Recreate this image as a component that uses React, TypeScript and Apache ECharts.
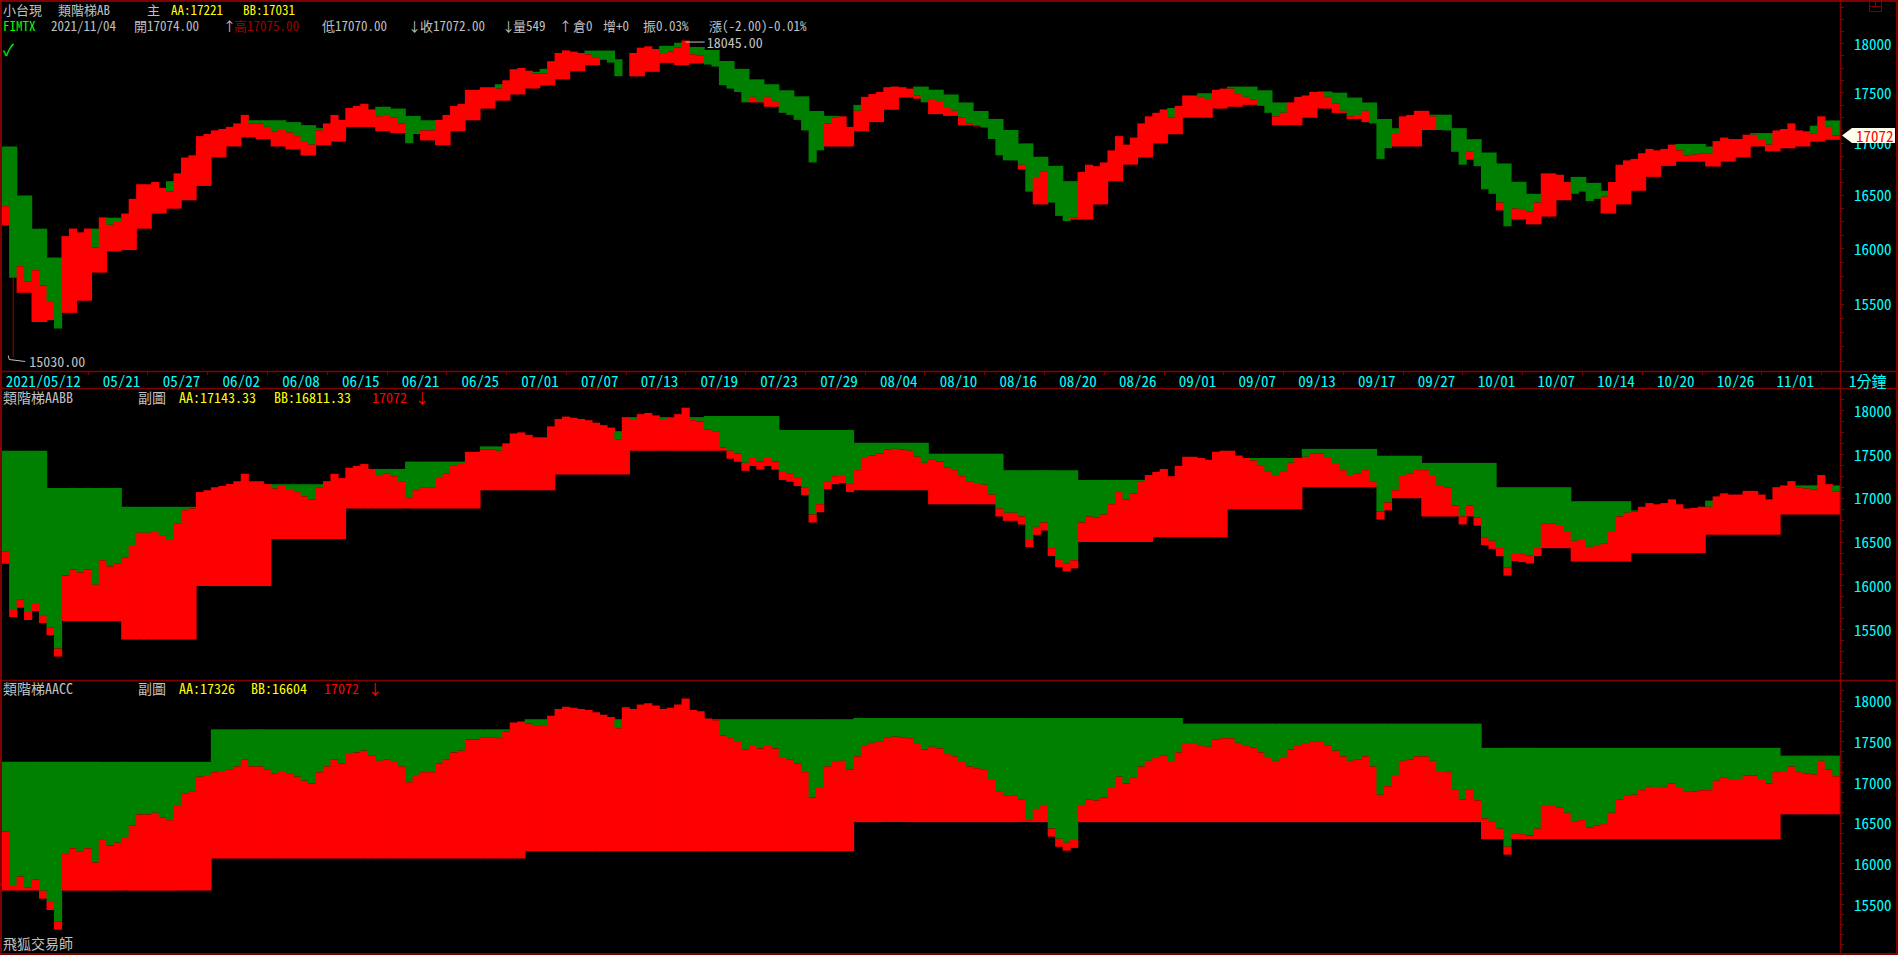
import React, { useEffect, useRef } from 'react';
import * as echarts from 'echarts';

const N = 246;

// close price, one value per pixel-band (≈ half a trading day)
const PRICE = [
  16393, 15734, 15838, 15699, 15803, 15664, 15525, 15282, 16115, 16185,
  16150, 16185, 16011, 16289, 16220, 16255, 16324, 16463, 16602, 16602,
  16623, 16567, 16532, 16706, 16859, 16880, 17067, 17088, 17123, 17137,
  17158, 17192, 17276, 17192, 17192, 17158, 17109, 17137, 17102, 17067,
  17018, 16984, 17123, 17192, 17276, 17227, 17345, 17366, 17387, 17331,
  17262, 17276, 17248, 17192, 16998, 17088, 17123, 17123, 17227, 17276,
  17366, 17387, 17526, 17526, 17553, 17553, 17539, 17623, 17734, 17748,
  17720, 17692, 17692, 17817, 17901, 17928, 17915, 17901, 17887, 17859,
  17831, 17803, 17664, 17922, 17901, 17956, 17970, 17942, 17901, 17915,
  17956, 18030, 17887, 17873, 17783, 17762, 17574, 17539, 17505, 17401,
  17456, 17415, 17456, 17415, 17297, 17276, 17227, 17123, 16811, 16928,
  17192, 17248, 17262, 17158, 17317, 17456, 17484, 17505, 17553, 17560,
  17553, 17539, 17470, 17401, 17435, 17415, 17345, 17317, 17248, 17192,
  17171, 17151, 17039, 16880, 16831, 16831, 16789, 16532, 16671, 16720,
  16428, 16303, 16255, 16289, 16720, 16789, 16775, 16811, 16928, 17067,
  16984, 17053, 17192, 17262, 17297, 17331, 17248, 17366, 17470, 17470,
  17456, 17435, 17526, 17539, 17539, 17484, 17456, 17428, 17366, 17297,
  17262, 17297, 17401, 17456, 17470, 17505, 17505, 17456, 17387, 17317,
  17262, 17276, 17317, 17192, 16845, 16949, 17088, 17262, 17276, 17317,
  17317, 17262, 17137, 17123, 16914, 16789, 16914, 16775, 16553, 16511,
  16428, 16206, 16372, 16359, 16345, 16428, 16706, 16706, 16692, 16623,
  16511, 16532, 16442, 16463, 16484, 16623, 16789, 16831, 16845, 16900,
  16942, 16928, 16942, 16984, 16928, 16880, 16887, 16900, 16900, 17018,
  17053, 17039, 17039, 17081, 17081, 17039, 16984, 17123, 17137, 17192,
  17123, 17109, 17095, 17262, 17158, 17072,
];

// main panel (類階梯AB): one AA / BB level per trading day (two bands each); null = hidden
const TOP_AA = [
  16966, 16496, 16184, 15918, 15986, null, 16184, 16286, 16325, null,
  null, 16631, null, null, null, null, 17223, 17223, 17223, 17205,
  17175, 17145, null, null, null, 17357, 17339, 17266, 17223, 17223,
  null, null, 17498, 17583, null, 17709, 17739, null, null, 17926,
  17926, 17837, null, null, 17975, 18007, 17963, 17932, 17819, 17739,
  17632, 17583, 17522, 17461, 17315, 17266, null, 17376, null, null,
  null, 17559, 17528, 17480, 17400, 17315, 17236, 17127, 16996, 16866,
  16778, 16631, null, null, null, 16984, null, null, 17345, null,
  17492, 17528, 17559, 17559, 17522, 17400, null, null, 17510, 17498,
  17449, 17400, 17236, 17145, null, 17278, 17278, 17145, 17037, 16907,
  16801, 16625, 16511, null, null, 16672, 16615, 16540, null, null,
  16878, null, 16990, 16990, 16966, null, 17025, 17097, 17097, 17115,
  17115, 17169, 17221,
];
const TOP_BB = [
  16213, 15599, 15340, 15356, 15420, 15528, 15781, 15974, 15986, 16184,
  16325, 16371, 16450, 16586, 16860, 16966, 17055, 17037, 16966, 16937,
  16878, 16978, 17013, 17157, 17157, 17115, 17097, null, 17025, 16978,
  17115, 17223, 17339, 17418, 17480, 17540, 17571, 17632, 17715, 17776,
  null, null, 17663, 17709, 17800, 17776, 17794, null, 17632, 17510,
  17400, 17357, 17296, null, null, 16966, 16966, 17115, 17205, 17327,
  17449, 17437, 17284, 17266, 17175, 17163, null, null, 16742, 16411,
  null, 16269, 16269, 16411, 16631, 16790, 16860, 16996, 17085, 17248,
  17248, 17339, 17357, 17376, null, 17175, 17175, 17248, 17339, 17296,
  17236, 17205, null, 16966, 16966, 17127, 17127, null, 16837, 16615,
  16354, 16269, 16224, 16297, 16450, null, null, 16325, 16411, 16540,
  16672, 16778, 16819, 16819, 16772, 16819, 16860, 16966, 16919, 16948,
  16966, 17013, 17031,
];

// sub chart 類階梯AABB: weekly levels, starting band of each week
const MID_START = [0, 6, 16, 26, 36, 46, 54, 64, 74, 84, 94, 104, 114, 124, 134, 144, 154, 164, 174, 184, 190, 200, 210, 218, 228, 238];
const MID_AA = [17539, 17115, 16899, null, 17157, 17331, 17415, 17588, 17762, 17922, 17935, 17776, 17630, 17505, 17317, 17206, null, 17456, 17560, 17482, 17400, 17123, 16963, 16859, 16970, 17143.33];
const MID_BB = [16250, 15595, 15386, 15997, 16532, 16880, 16880, 17088, 17268, 17539, 17539, null, 17088, 16928, null, 16498, 16553, 16872, 17123, 16997, 16789, 16428, 16275, 16372, 16581, 16811.33];

// sub chart 類階梯AACC: monthly levels
const BOT_START = [0, 28, 70, 114, 158, 198, 238];
const BOT_AA = [17250, 17650, 17775, 17790, 17720, 17422, 17326];
const BOT_BB = [15665, 16060, 16150, 16508, 16508, 16298, 16604];

const LABEL_IDX = [0, 13, 21, 29, 37, 45, 53, 61, 69, 77, 85, 93, 101, 109, 117, 125, 133, 141, 149, 157, 165, 173, 181, 189, 197, 205, 213, 221, 229, 237];
const DATE_LABELS = ['2021/05/12', '05/21', '05/27', '06/02', '06/08', '06/15', '06/21', '06/25', '07/01', '07/07', '07/13', '07/19', '07/23', '07/29', '08/04', '08/10', '08/16', '08/20', '08/26', '09/01', '09/07', '09/13', '09/17', '09/27', '10/01', '10/07', '10/14', '10/20', '10/26', '11/01'];
const TICK_IDX = Array.from({ length: 30 }, (_, j) => 11 + 8 * j);

const Y_LABELS = [15500, 16000, 16500, 17000, 17500, 18000];
const Y_MINOR = Array.from({ length: 28 }, (_, j) => 15000 + 125 * j);

const MAX_IDX = 91, MAX_VAL = 18045;
const MIN_IDX = 1, MIN_VAL = 15030;

const RED = '#ff0000';
const GREEN = '#008000';
const DARK_RED = '#800000';
const CYAN = '#00ffff';
const GRAY = '#c0c0c0';
const YELLOW = '#ffff00';
const FONT = '"Noto Sans Mono CJK TC", "Noto Sans CJK TC", "DejaVu Sans Mono", monospace';

function expand(starts: number[], vals: (number | null)[]) {
  const out: (number | null)[] = [];
  let s = 0;
  for (let i = 0; i < N; i++) {
    while (s + 1 < starts.length && i >= starts[s + 1]) s++;
    out.push(vals[s]);
  }
  return out;
}

function makeRender(p: number[], aa: (number | null)[], bb: (number | null)[], strip: number) {
  return (params: any, api: any) => {
    const i = params.dataIndex;
    const P = p[i];
    const c = api.coord([i, P]);
    const w = api.size([1, 0])[0];
    const x = c[0] - w / 2 - 0.35;
    const width = w + 0.7;
    const children: any[] = [];
    const A = aa[i];
    const B = bb[i];
    if (A != null && A > P) {
      const ya = api.coord([i, A])[1];
      children.push({ type: 'rect', shape: { x, y: ya, width, height: c[1] - ya }, style: { fill: GREEN } });
    }
    if (B != null && P > B) {
      const yb = api.coord([i, B])[1];
      children.push({ type: 'rect', shape: { x, y: c[1], width, height: yb - c[1] }, style: { fill: RED } });
    } else if (strip > 0) {
      children.push({ type: 'rect', shape: { x, y: c[1], width, height: strip }, style: { fill: RED } });
    }
    return { type: 'group', children };
  };
}

function txt(text: string, x: number, y: number, fill: string, size = 14) {
  return {
    type: 'text', x, y, z: 100,
    style: {
      text, fill, font: `${size}px ${FONT}`, lineHeight: size,
      textVerticalAlign: 'middle', verticalAlign: 'middle', textAlign: 'left', align: 'left',
    },
  };
}

function yAxisCfg(gridIndex: number, min: number, max: number, log: boolean) {
  const t = (v: number) => (log ? Math.log(v) : v);
  return {
    type: 'value', gridIndex, position: 'right', min: t(min), max: t(max),
    splitLine: { show: false },
    axisLine: { show: true, lineStyle: { color: DARK_RED, width: 1 } },
    axisTick: {
      show: true, inside: false, length: 4, lineStyle: { color: DARK_RED },
      customValues: Y_MINOR.filter((v) => v > min && v < max).map(t),
    },
    axisLabel: {
      show: true, color: CYAN, fontSize: 15, lineHeight: 15, fontFamily: FONT, margin: 14,
      customValues: Y_LABELS.map(t),
      formatter: (v: number) => String(Math.round(log ? Math.exp(v) : v)),
    },
  };
}

export default function App() {
  const ref = useRef<HTMLDivElement>(null);
  useEffect(() => {
    document.body.style.margin = '0';
    document.body.style.background = '#000';
    const chart = echarts.init(ref.current!, null, { renderer: 'svg' });
    const cats = Array.from({ length: N }, (_, i) => String(i));

    const topAA = Array.from({ length: N }, (_, i) => TOP_AA[Math.floor(i / 2)]);
    const topBB = Array.from({ length: N }, (_, i) => TOP_BB[Math.floor(i / 2)]);
    const ln = (v: number | null) => (v == null ? null : Math.log(v));
    const pLn = PRICE.map((v) => Math.log(v));
    const midAA = expand(MID_START, MID_AA);
    const midBB = expand(MID_START, MID_BB);
    const botAA = expand(BOT_START, BOT_AA);
    const botBB = expand(BOT_START, BOT_BB);

    const grids = [
      { left: 2, width: 1838, top: 2, height: 369, outerBoundsMode: 'none' },
      { left: 2, width: 1838, top: 389, height: 290, outerBoundsMode: 'none' },
      { left: 2, width: 1838, top: 681, height: 272, outerBoundsMode: 'none' },
    ];
    const hiddenX = (gridIndex: number) => ({
      type: 'category', gridIndex, data: cats, boundaryGap: true, show: false,
    });

    const option: any = {
      animation: false,
      backgroundColor: '#000',
      grid: grids,
      xAxis: [
        {
          type: 'category', gridIndex: 0, data: cats, boundaryGap: true, position: 'bottom',
          axisLine: { show: false },
          axisTick: {
            show: true, alignWithLabel: true, length: 4,
            interval: (i: number) => TICK_IDX.includes(i),
            lineStyle: { color: DARK_RED, width: 1 },
          },
          axisLabel: {
            show: true, color: CYAN, fontSize: 15, lineHeight: 14, fontFamily: FONT, align: 'left', margin: 2,
            interval: (i: number) => LABEL_IDX.includes(i),
            formatter: (_v: string, i: number) => {
              const k = LABEL_IDX.indexOf(i);
              return k >= 0 ? DATE_LABELS[k] : '';
            },
          },
          splitLine: { show: false },
        },
        hiddenX(1),
        hiddenX(2),
      ],
      yAxis: [
        yAxisCfg(0, 14914, 18433, true),
        yAxisCfg(1, 14935, 18243, false),
        yAxisCfg(2, 14897, 18245, false),
      ],
      series: [
        {
          type: 'custom', xAxisIndex: 0, yAxisIndex: 0, clip: true,
          data: pLn.map((v, i) => [i, v]), encode: { x: 0, y: 1 },
          renderItem: makeRender(pLn, topAA.map(ln), topBB.map(ln), 0),
        },
        {
          type: 'custom', xAxisIndex: 1, yAxisIndex: 1, clip: true,
          data: PRICE.map((v, i) => [i, v]), encode: { x: 0, y: 1 },
          renderItem: makeRender(PRICE, midAA, midBB, 8),
        },
        {
          type: 'custom', xAxisIndex: 2, yAxisIndex: 2, clip: true,
          data: PRICE.map((v, i) => [i, v]), encode: { x: 0, y: 1 },
          renderItem: makeRender(PRICE, botAA, botBB, 8),
        },
      ],
    };
    chart.setOption(option);

    const last = PRICE[N - 1];
    const [, ty] = chart.convertToPixel({ gridIndex: 0 } as any, [N - 1, Math.log(last)]) as number[];
    const [mx, my] = chart.convertToPixel({ gridIndex: 0 } as any, [MAX_IDX, Math.log(MAX_VAL)]) as number[];
    const [nx, ny] = chart.convertToPixel({ gridIndex: 0 } as any, [MIN_IDX, Math.log(MIN_VAL)]) as number[];
    const [, npy] = chart.convertToPixel({ gridIndex: 0 } as any, [MIN_IDX, Math.log(PRICE[MIN_IDX])]) as number[];

    const ln1 = (x1: number, y1: number, x2: number, y2: number, stroke = DARK_RED, w = 1) => ({
      type: 'line', z: 100, shape: { x1, y1, x2, y2 }, style: { stroke, lineWidth: w },
    });

    const H = 13; // header font size
    const Y1 = 9;
    const Y2 = 25.5;
    const graphic: any[] = [
      { type: 'rect', z: 100, shape: { x: 1, y: 1, width: 1896, height: 953 }, style: { fill: 'none', stroke: DARK_RED, lineWidth: 2 } },
      ln1(0, 371.5, 1898, 371.5, DARK_RED, 1.5),
      ln1(0, 388.5, 1898, 388.5, DARK_RED, 1.5),
      ln1(0, 680.5, 1898, 680.5, DARK_RED, 1.5),
      ln1(1840.5, 0, 1840.5, 955, DARK_RED, 1.5),
      // top-right small icon
      { type: 'rect', z: 100, shape: { x: 1869.5, y: 1.5, width: 12, height: 10 }, style: { fill: 'none', stroke: DARK_RED, lineWidth: 1 } },
      ln1(1869.5, 6.5, 1881.5, 6.5),
      ln1(1875.5, 1.5, 1875.5, 6.5),
      // header line 1
      txt('小台現', 3, Y1, GRAY, H),
      txt('類階梯AB', 58, Y1, GRAY, H),
      txt('主', 147, Y1, GRAY, H),
      txt('AA:17221', 171, Y1, YELLOW, H),
      txt('BB:17031', 243, Y1, YELLOW, H),
      // header line 2
      txt('FIMTX', 3, Y2, '#00ff00', H),
      txt('2021/11/04', 51, Y2, GRAY, H),
      txt('開17074.00', 134, Y2, GRAY, H),
      txt('↑', 223, Y2, GRAY, H),
      txt('高17075.00', 234, Y2, '#a00000', H),
      txt('低17070.00', 322, Y2, GRAY, H),
      txt('↓', 408, Y2, GRAY, H),
      txt('收17072.00', 420, Y2, GRAY, H),
      txt('↓', 502, Y2, GRAY, H),
      txt('量549', 513, Y2, GRAY, H),
      txt('↑', 559, Y2, GRAY, H),
      txt('倉0', 573, Y2, GRAY, H),
      txt('增+0', 603, Y2, GRAY, H),
      txt('振0.03%', 643, Y2, GRAY, H),
      txt('漲(-2.00)-0.01%', 709, Y2, GRAY, H),
      txt('✓', 3, 49, '#00ff00', 16),
      // extremes
      ln1(mx, my + 3, mx + 19, my + 3, GRAY, 1),
      txt(MAX_VAL.toFixed(2), mx + 21, my + 3, GRAY),
      ln1(nx, npy, nx, ny, '#a00000', 1),
      { type: 'polyline', z: 100, shape: { points: [[nx - 5, ny - 2], [nx - 4, ny + 2], [nx + 12, ny + 4]] }, style: { stroke: GRAY, lineWidth: 1, fill: 'none' } },
      txt(MIN_VAL.toFixed(2), nx + 16, ny + 3, GRAY),
      // right column
      txt('1分鐘', 1849, 380, CYAN, 15),
      { type: 'polygon', z: 100, shape: { points: [[1842, ty], [1852, ty - 7.5], [1895, ty - 7.5], [1895, ty + 7.5], [1852, ty + 7.5]] }, style: { fill: '#fffff0' } },
      txt(String(last), 1856, ty, RED, 15),
      // sub chart titles
      txt('類階梯AABB', 3, 397, GRAY),
      txt('副圖', 138, 397, GRAY),
      txt('AA:' + MID_AA[MID_AA.length - 1]!.toFixed(2), 179, 397, YELLOW),
      txt('BB:' + MID_BB[MID_BB.length - 1]!.toFixed(2), 274, 397, YELLOW),
      txt(String(last), 372, 397, RED),
      txt('↓', 415, 397, RED),
      txt('類階梯AACC', 3, 688, GRAY),
      txt('副圖', 138, 688, GRAY),
      txt('AA:' + BOT_AA[BOT_AA.length - 1], 179, 688, YELLOW),
      txt('BB:' + BOT_BB[BOT_BB.length - 1], 251, 688, YELLOW),
      txt(String(last), 324, 688, RED),
      txt('↓', 368, 688, RED),
      txt('飛狐交易師', 3, 943, GRAY),
    ];
    chart.setOption({ graphic });
    return () => chart.dispose();
  }, []);
  return <div ref={ref} style={{ width: 1898, height: 955, background: '#000' }} />;
}
